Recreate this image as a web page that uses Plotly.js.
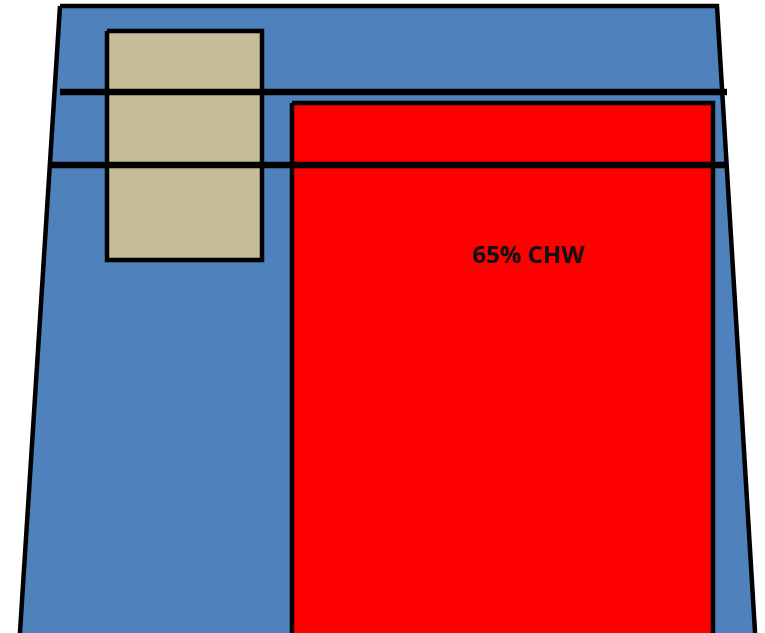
<!DOCTYPE html>
<html>
<head>
<meta charset="utf-8">
<script src="https://cdn.plot.ly/plotly-3.0.1.min.js"></script>
<style>html,body{margin:0;padding:0;background:#fff;}#chart{width:765px;height:633px;}</style>
</head>
<body>
<div id="chart"></div>
<script>
// Diagram regions (drawing units = pixel grid of the reference, y downward)
const outerX = [60, 717, 755.5, 19.5, 60];
const outerY = [6, 6, 640, 640, 6];
const tankX = [107, 262, 262, 107, 107];
const tankY = [31, 31, 260, 260, 31];
const chwX = [292, 713, 713, 292, 292];
const chwY = [103, 103, 645, 645, 103];
const line1X = [60, 727];
const line1Y = [92, 92];
const line2X = [52, 727];
const line2Y = [165, 165];
const labelText = "65% CHW";
const labelX = 528;
const labelY = 253;

const traces = [
  {x: outerX, y: outerY, mode: 'lines', fill: 'toself', fillcolor: '#4F81BD',
   line: {color: '#000', width: 4.5}, hoverinfo: 'skip'},
  {x: tankX, y: tankY, mode: 'lines', fill: 'toself', fillcolor: '#C4BD97',
   line: {color: '#000', width: 4.5}, hoverinfo: 'skip'},
  {x: chwX, y: chwY, mode: 'lines', fill: 'toself', fillcolor: '#FF0000',
   line: {color: '#000', width: 4.5}, hoverinfo: 'skip'},
  {x: line1X, y: line1Y, mode: 'lines', line: {color: '#000', width: 6.5}, hoverinfo: 'skip'},
  {x: line2X, y: line2Y, mode: 'lines', line: {color: '#000', width: 6.5}, hoverinfo: 'skip'}
];

const layout = {
  width: 765, height: 633,
  margin: {l: 0, r: 0, t: 0, b: 0},
  paper_bgcolor: '#fff', plot_bgcolor: '#fff',
  showlegend: false,
  xaxis: {range: [0, 765], visible: false, fixedrange: true},
  yaxis: {range: [633, 0], visible: false, fixedrange: true},
  annotations: [{
    x: labelX, y: labelY, xref: 'x', yref: 'y', text: '<b>' + labelText + '</b>', showarrow: false,
    font: {family: 'Open Sans, sans-serif', size: 24, color: '#111'}
  }]
};

Plotly.newPlot('chart', traces, layout, {displayModeBar: false, staticPlot: true});
</script>
</body>
</html>
